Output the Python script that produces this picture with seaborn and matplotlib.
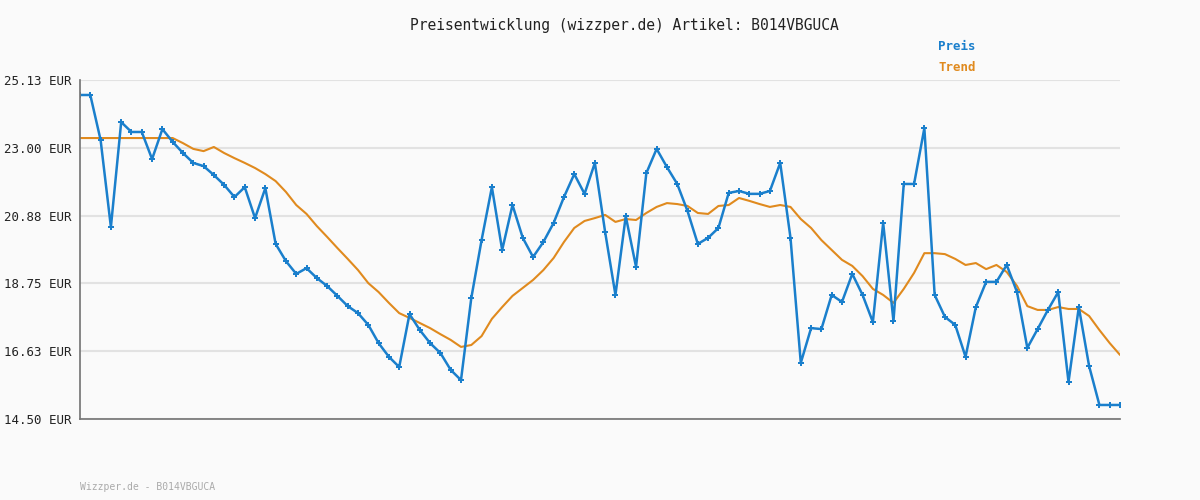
import numpy as np
import pandas as pd
import matplotlib
matplotlib.use("Agg")
import matplotlib.pyplot as plt
import seaborn as sns

# price readings (EUR) in order
preis = [24.66, 24.66, 23.25, 20.52, 23.81, 23.50, 23.50, 22.65, 23.59, 23.19,
         22.84, 22.53, 22.43, 22.15, 21.84, 21.46, 21.77, 20.80, 21.74, 19.99,
         19.45, 19.05, 19.23, 18.92, 18.67, 18.36, 18.04, 17.82, 17.45, 16.88,
         16.45, 16.13, 17.79, 17.29, 16.88, 16.57, 16.04, 15.72, 18.29, 20.11,
         21.77, 19.80, 21.21, 20.18, 19.58, 20.05, 20.65, 21.46, 22.18, 21.56,
         22.53, 20.36, 18.39, 20.86, 19.27, 22.21, 22.97, 22.40, 21.87, 21.02,
         19.99, 20.18, 20.49, 21.59, 21.65, 21.56, 21.56, 21.65, 22.53, 20.18,
         16.26, 17.35, 17.32, 18.39, 18.17, 19.05, 18.39, 17.54, 20.65, 17.57,
         21.87, 21.87, 23.62, 18.39, 17.70, 17.45, 16.45, 18.01, 18.80, 18.80,
         19.33, 18.48, 16.73, 17.32, 17.92, 18.48, 15.66, 18.01, 16.16, 14.94,
         14.94, 14.94]

trend = [23.31] * 10 + [
         23.15, 22.97, 22.90, 23.03, 22.84, 22.68, 22.53, 22.37, 22.18, 21.96,
         21.62, 21.21, 20.93, 20.55, 20.21, 19.86, 19.52, 19.17, 18.76, 18.48,
         18.14, 17.82, 17.67, 17.51, 17.35, 17.16, 16.98, 16.76, 16.82, 17.10,
         17.64, 18.01, 18.36, 18.61, 18.86, 19.17, 19.55, 20.05, 20.49, 20.71,
         20.80, 20.90, 20.68, 20.77, 20.74, 20.96, 21.15, 21.27, 21.24, 21.18,
         20.96, 20.93, 21.18, 21.21, 21.43, 21.34, 21.24, 21.15, 21.21, 21.15,
         20.77, 20.49, 20.11, 19.80, 19.49, 19.30, 18.98, 18.58, 18.39, 18.14,
         18.58, 19.08, 19.70, 19.70, 19.67, 19.52, 19.33, 19.39, 19.20, 19.33,
         19.11, 18.67, 18.04, 17.92, 17.92, 18.01, 17.95, 17.95, 17.73, 17.29,
         16.88, 16.51]

yticks = [14.50, 16.63, 18.75, 20.88, 23.00, 25.13]

sns.set_theme(style="white")
plt.rcParams['font.family'] = ['DejaVu Sans Mono']

df_p = pd.DataFrame({"i": np.arange(len(preis)), "v": preis})
df_t = pd.DataFrame({"i": np.arange(len(trend)), "v": trend})

fig = plt.figure(figsize=(12, 5), dpi=100, facecolor="#fafafa")
ax = fig.add_axes([80 / 1200, 81 / 500, 1040 / 1200, 339 / 500])
ax.set_facecolor("#fafafa")

sns.lineplot(data=df_t, x="i", y="v", ax=ax, color="#e08a1e", linewidth=1.5)
sns.lineplot(data=df_p, x="i", y="v", ax=ax, color="#1a7fcc", linewidth=1.8,
             marker="P", markersize=4, markeredgewidth=0)

n = max(len(preis), len(trend)) - 1
ax.set_xlim(0, n)
ax.set_ylim(14.50, 25.13)
ax.set_yticks(yticks)
ax.set_yticklabels([f"{t:.2f} EUR" for t in yticks], fontsize=9, color="#222222")
ax.set_xticks([])
ax.set_xlabel("")
ax.set_ylabel("")
ax.grid(axis="y", color="#e2e2e2", linewidth=1.5)
ax.tick_params(axis="y", length=0, pad=6)
for s in ["top", "right"]:
    ax.spines[s].set_visible(False)
ax.spines["left"].set_color("#777777")
ax.spines["bottom"].set_color("#777777")

fig.text(0.52, 0.94, "Preisentwicklung (wizzper.de) Artikel: B014VBGUCA",
         ha="center", fontsize=10.5, color="#222222")
fig.text(0.782, 0.9, "Preis", fontsize=9, color="#1a7fcc", weight="bold")
fig.text(0.782, 0.858, "Trend", fontsize=9, color="#e08a1e", weight="bold")
fig.text(80 / 1200, 0.02, "Wizzper.de - B014VBGUCA", fontsize=7, color="#aaaaaa")

fig.savefig("out.png", dpi=100, facecolor=fig.get_facecolor())
